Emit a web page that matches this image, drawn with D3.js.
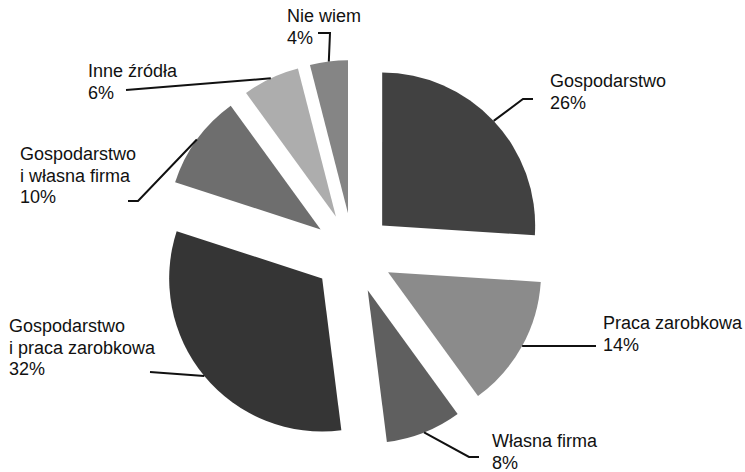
<!DOCTYPE html>
<html>
<head>
<meta charset="utf-8">
<script src="https://cdn.jsdelivr.net/npm/d3@7"></script>
<style>
  body { margin: 0; background: #fff; }
  svg { display: block; }
</style>
</head>
<body>
<div id="chart"></div>
<script>
// data
const CATEGORIES = ["Gospodarstwo", "Praca zarobkowa", "Własna firma",
                    "Gospodarstwo\ni praca zarobkowa", "Gospodarstwo\ni własna firma",
                    "Inne źródła", "Nie wiem"];
const VALUES = [26, 14, 8, 32, 10, 6, 4];
const COLORS = ["#414141", "#8b8b8b", "#5f5f5f", "#353535", "#6e6e6e", "#adadad", "#858585"];

const FRAME_WIDTH = 745;
const FRAME_HEIGHT = 472;
const CENTER = {x: 353, y: 253};
const RADIUS = 153;
const EXPLODE = 40;
const LINE_H = 21.5;

// label placement: text x / first baseline, leader knee and end
const LABEL_LAYOUT = [
  {tx: 550, ty: 87,  knee: [523, 99],  end: [533, 99]},
  {tx: 603, ty: 329, knee: null,       end: [596, 346]},
  {tx: 492, ty: 447, knee: [469, 457], end: [479, 457]},
  {tx: 9,   ty: 332, knee: null,       end: [150, 372]},
  {tx: 20,  ty: 160, knee: [138, 201], end: [128, 201]},
  {tx: 88,  ty: 77,  knee: null,       end: [126, 90]},
  {tx: 287, ty: 22,  knee: [330, 33],  end: [318, 33]}
];

const data = CATEGORIES.map((c, i) => ({name: c, value: VALUES[i], color: COLORS[i]}));

const SVG = d3.select("#chart")
  .append("svg")
    .attr("width", FRAME_WIDTH)
    .attr("height", FRAME_HEIGHT);

const pie = d3.pie().sort(null).value(d => d.value);
const arc = d3.arc().innerRadius(0).outerRadius(RADIUS);
const arcs = pie(data);

const mid = d => (d.startAngle + d.endAngle) / 2;

// slices, each pushed out along its middle angle
SVG.append("g")
    .attr("transform", "translate(" + CENTER.x + "," + CENTER.y + ")")
  .selectAll("path")
  .data(arcs)
  .enter()
  .append("path")
    .attr("d", arc)
    .attr("fill", d => d.data.color)
    .attr("transform", d => "translate(" + (Math.sin(mid(d)) * EXPLODE) + "," +
          (-Math.cos(mid(d)) * EXPLODE) + ")");

// leader lines from the slice edge to the label
const line = d3.line();
SVG.append("g")
  .selectAll("path")
  .data(arcs)
  .enter()
  .append("path")
    .attr("fill", "none")
    .attr("stroke", "#111")
    .attr("stroke-width", 2)
    .attr("d", (d, i) => {
      const m = mid(d);
      const r = RADIUS + EXPLODE;
      const start = [CENTER.x + Math.sin(m) * r, CENTER.y - Math.cos(m) * r];
      const L = LABEL_LAYOUT[i];
      const pts = [start];
      if (L.knee) pts.push(L.knee);
      pts.push(L.end);
      return line(pts);
    });

// labels
const labels = SVG.append("g")
  .selectAll("text")
  .data(arcs)
  .enter()
  .append("text")
    .attr("x", (d, i) => LABEL_LAYOUT[i].tx)
    .attr("y", (d, i) => LABEL_LAYOUT[i].ty)
    .attr("font-family", "'Liberation Sans', Arial, sans-serif")
    .attr("font-size", "18px")
    .attr("fill", "#111");

labels.each(function(d, i) {
  const lines = d.data.name.split("\n").concat([d.data.value + "%"]);
  d3.select(this).selectAll("tspan")
    .data(lines)
    .enter()
    .append("tspan")
      .attr("x", LABEL_LAYOUT[i].tx)
      .attr("dy", (t, j) => j === 0 ? 0 : LINE_H)
      .text(t => t);
});
</script>
</body>
</html>
